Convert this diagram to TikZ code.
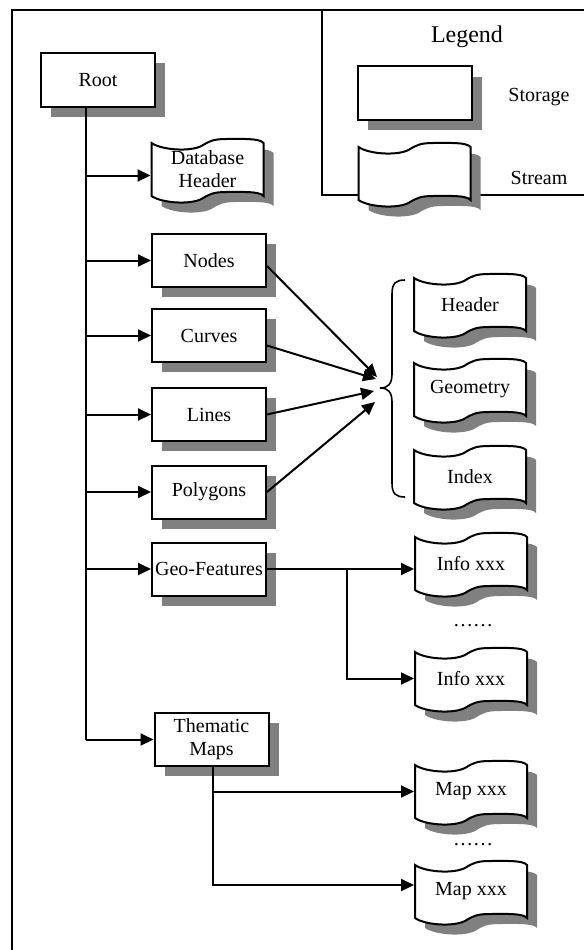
\documentclass[tikz,border=0pt]{standalone}
\usepackage{fontspec}
\setmainfont{Liberation Serif}
\usetikzlibrary{arrows.meta,shadows}
\newcommand\tapedraw[1]{\path[#1] (0,0) .. controls (10,7) and (38,9) .. (50,3) .. controls (58,-2) and (62,-4) .. (75,-4) .. controls (90,-4) and (108,-5) .. (112,0) -- (112,53) .. controls (108,48) and (90,49) .. (75,49) .. controls (62,49) and (58,51) .. (50,56) .. controls (38,62) and (10,60) .. (0,53) -- cycle;}
\newcommand\streamtape[4]{%
  \begin{scope}[shift={(#2-56,#3-26.5)}]
    \tapedraw{fill=shadowgray, shift={(10,10)}}
    \tapedraw{draw, fill=white}
  \end{scope}
  \node[tapenode] (#1) at (#2,#3) {#4};
}
\definecolor{shadowgray}{RGB}{128,128,128}
\tikzset{
  txt/.style={font=\fontsize{20}{23}\selectfont},
  box/.style={txt, draw, fill=white, minimum width=114pt, minimum height=53pt, inner sep=0pt, align=center,
    drop shadow={shadow xshift=10pt, shadow yshift=-10pt, fill=shadowgray, opacity=1}},
  tapenode/.style={txt, minimum width=112pt, minimum height=53pt, inner sep=0pt, align=center},
  arr/.style={-{Triangle[length=13pt,width=12pt]}},
  dotsnode/.style={txt, anchor=base, inner sep=0pt}
}
\begin{document}
\begin{tikzpicture}[x=1pt,y=-1pt,line width=2pt]
\useasboundingbox (0,0) rectangle (584,950);
% frame and legend box
\draw (12,950) -- (12,10) -- (584,10);
\draw (322,10) -- (322,195) -- (584,195);
\node[font=\fontsize{24}{28}\selectfont] (legtitle) at (467,37) {Legend};
\node[box] (legstore) at (414.5,93) {};
\node[txt] (storage) at (539,97) {Storage};
\streamtape{legstream}{414.5}{173.5}{}
\node[txt] (stream) at (539,178) {Stream};

% left column
\node[box] (Root) at (98,80) {Root};
\streamtape{DB}{207.5}{169.5}{\fontsize{20}{14}\selectfont\lineskiplimit=-30pt Database\\Header}
\node[box] (Nodes) at (209,260.5) {Nodes};
\node[box] (Curves) at (209,335.5) {Curves};
\node[box] (Lines) at (209,414.5) {Lines};
\node[box] (Polygons) at (209,492) {Polygons};
\node[box] (Geo) at (209,569) {Geo-Features};
\node[box] (Thematic) at (211.5,739.5) {Thematic\\Maps};

% right column
\streamtape{Header}{470}{304.5}{Header}
\streamtape{Geometry}{470}{389.5}{Geometry}
\streamtape{Index}{470}{476.5}{Index}
\streamtape{Info1}{471}{563.5}{Info xxx}
\node[dotsnode] (dots1) at (473,626) {……};
\streamtape{Info2}{471}{678.5}{Info xxx}
\streamtape{Map1}{471}{791.5}{Map xxx}
\node[dotsnode] (dots2) at (473,845) {……};
\streamtape{Map2}{471}{891.5}{Map xxx}

% brace
\draw[line width=1.6pt] (405,280) .. controls (396,280) and (392,283) .. (392,294) -- (392,374) .. controls (392,384) and (388,388) .. (380,388) .. controls (388,388) and (392,392) .. (392,402) -- (392,483) .. controls (392,494) and (396,497) .. (405,497);

% trunk
\coordinate (tr) at (86,0);
\draw (Root.south -| tr) -- (Thematic.west -| tr);
\coordinate (dbin) at ([yshift=-6pt]DB.west);
\draw[arr] (dbin -| tr) -- (dbin);
\foreach \n in {Nodes,Curves,Lines,Polygons,Geo,Thematic}
  \draw[arr] (\n.west -| tr) -- (\n.west);

% converging arrows
\coordinate (e1) at (377,377);
\coordinate (e2) at (376,379);
\coordinate (e3) at (374,391);
\coordinate (e4) at (375,402);
\draw[arr] ([yshift=-5.5pt]Nodes.east) -- (e1);
\draw[arr] ([yshift=-10pt]Curves.east) -- (e2);
\draw[arr] (Lines.east) -- (e3);
\draw[arr] (Polygons.east) -- (e4);

% geo features
\coordinate (gb) at (347,0);
\draw[arr] (Geo.east) -- (Geo.east -| Info1.west);
\draw[arr] (Geo.east -| gb) |- (Info2.west);

% thematic maps
\coordinate (tb) at (213,0);
\coordinate (m2in) at ([yshift=6.5pt]Map2.west);
\draw[arr] (Thematic.south -| tb) |- (Map1.west);
\draw[arr] (Thematic.south -| tb) |- (m2in);
\end{tikzpicture}
\end{document}
